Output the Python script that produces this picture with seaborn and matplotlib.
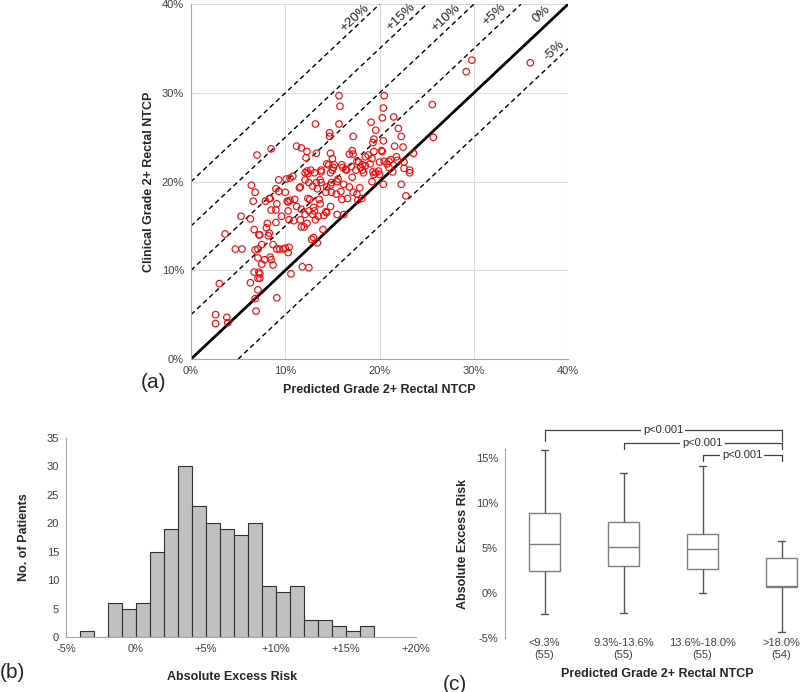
import numpy as np
import pandas as pd
import matplotlib
matplotlib.use("Agg")
import matplotlib.pyplot as plt
import seaborn as sns

sns.set_style("white")
plt.rcParams["font.family"] = ["Liberation Sans", "DejaVu Sans"]

# (a) predicted vs clinical NTCP, in %
pred = [36.0, 29.8, 29.2, 20.5, 15.7, 15.8, 20.4, 25.6, 20.3, 21.5,
        19.1, 13.2, 15.7, 22.0, 19.6, 14.7, 14.7, 17.2, 22.3, 25.7,
        19.4, 20.4, 19.3, 11.2, 11.7, 8.5, 21.6, 22.5, 7.0, 12.3,
        13.3, 17.1, 17.2, 16.8, 19.4, 20.2, 20.3, 18.8, 18.5, 23.6,
        14.8, 15.0, 12.2, 19.2, 21.8, 21.9, 17.6, 17.8, 14.4, 14.6,
        16.0, 16.1, 16.4, 16.5, 18.2, 18.5, 20.0, 20.5, 21.0, 21.2,
        20.8, 22.6, 21.0, 22.6, 23.2, 23.2, 13.8, 13.8, 15.0, 15.1,
        14.8, 12.3, 12.7, 12.4, 12.1, 13.1, 10.8, 17.5, 18.3, 19.3,
        19.4, 19.9, 19.6, 18.2, 17.1, 15.6, 9.3, 10.1, 12.1, 12.5,
        13.3, 13.7, 13.8, 14.8, 14.9, 19.2, 20.4, 22.3, 6.4, 6.8,
        6.6, 9.0, 9.3, 10.0, 11.5, 11.6, 13.4, 14.3, 14.4, 14.9,
        15.4, 15.9, 17.2, 17.6, 17.9, 16.6, 16.0, 18.1, 17.7, 7.9,
        8.3, 8.4, 9.1, 10.2, 10.5, 10.3, 12.4, 12.6, 13.6, 13.7,
        5.3, 6.3, 8.5, 9.0, 9.0, 10.3, 10.4, 10.9, 11.7, 11.6,
        11.7, 12.0, 12.1, 12.5, 12.9, 13.1, 13.2, 13.5, 14.1, 14.3,
        14.4, 15.5, 16.2, 14.0, 6.7, 7.2, 7.3, 8.0, 8.2, 8.3,
        3.6, 4.7, 5.4, 6.8, 7.1, 7.5, 8.7, 9.1, 9.4, 9.8,
        10.0, 10.3, 10.4, 12.8, 13.0, 13.4, 7.1, 7.5, 7.8, 8.4,
        8.5, 8.7, 6.7, 7.2, 7.3, 7.1, 7.3, 6.3, 3.0, 11.8,
        12.5, 10.6, 7.1, 9.1, 6.8, 6.9, 2.6, 2.6, 3.8, 3.9,
        22.8, 15.2, 12.9, 10.5, 16.2, 15.5, 11.0, 13.0, 14.8, 12.3,
        9.6, 18.0, 19.0, 17.0, 20.0, 8.1, 11.2, 16.8, 21.4]
clin = [33.4, 33.7, 32.4, 29.7, 29.7, 28.5, 28.3, 28.7, 27.2, 27.3,
        26.7, 26.5, 26.5, 26.0, 25.8, 25.5, 25.1, 25.1, 25.1, 25.0,
        24.8, 24.6, 24.4, 24.0, 23.8, 23.7, 24.0, 23.9, 23.0, 23.4,
        23.2, 23.5, 23.1, 23.1, 23.4, 23.5, 23.4, 23.0, 22.8, 23.2,
        23.2, 22.6, 22.7, 22.6, 22.8, 22.4, 22.3, 22.2, 22.0, 21.9,
        21.9, 21.6, 21.4, 21.3, 21.9, 21.8, 22.2, 22.3, 22.3, 22.5,
        22.0, 22.2, 21.6, 21.5, 21.3, 21.0, 21.3, 21.1, 21.3, 21.6,
        21.0, 21.2, 21.3, 20.9, 21.0, 21.0, 20.6, 21.3, 21.0, 21.1,
        20.8, 21.2, 21.0, 21.3, 20.5, 20.3, 20.2, 20.3, 20.2, 19.9,
        19.9, 20.2, 19.9, 19.6, 19.9, 20.0, 19.7, 19.7, 19.6, 18.8,
        17.8, 19.2, 18.9, 18.8, 19.3, 19.4, 19.2, 18.8, 19.4, 18.8,
        18.6, 18.9, 18.8, 18.6, 19.3, 18.1, 18.0, 18.1, 17.9, 17.8,
        18.1, 18.1, 17.5, 17.8, 17.9, 17.7, 18.1, 18.0, 18.0, 17.5,
        16.1, 15.8, 16.8, 16.8, 15.4, 16.7, 15.7, 15.6, 16.9, 15.7,
        14.9, 14.9, 16.3, 16.7, 16.3, 16.7, 15.7, 16.1, 16.2, 16.6,
        16.5, 16.3, 16.3, 14.6, 14.6, 14.0, 14.0, 14.8, 13.9, 14.2,
        14.1, 12.4, 12.4, 12.3, 12.4, 12.9, 12.9, 12.4, 12.4, 12.4,
        12.5, 12.0, 12.6, 13.5, 13.7, 13.1, 11.4, 10.7, 11.2, 11.5,
        11.2, 10.6, 9.8, 9.8, 9.6, 9.1, 9.1, 8.6, 8.5, 10.4,
        10.3, 9.6, 7.8, 6.9, 6.8, 5.4, 5.0, 4.0, 4.7, 4.1,
        18.4, 21.9, 19.5, 20.4, 19.7, 20.0, 18.0, 17.1, 17.2, 15.3,
        16.1, 21.6, 22.0, 21.7, 20.8, 15.3, 17.2, 19.4, 21.1]

ref_offsets = [-5, 5, 10, 15, 20]
ref_labels = ["-5%", "+5%", "+10%", "+15%", "+20%"]
ref_label_pos = [(38.5, 34.8), (32.2, 38.8), (27.0, 38.5), (22.3, 38.6), (17.4, 38.4)]

# (b) histogram of absolute excess risk, 1% bins
bin_edges = list(range(-4, 18))
bin_counts = [1, 0, 6, 5, 6, 15, 19, 30, 23, 20, 19, 18, 20, 9, 8, 9, 3, 3, 2, 1, 2]

# (c) box summaries: min, q1, median, q3, max (in %)
groups = ["<9.3%\n(55)", "9.3%-13.6%\n(55)", "13.6%-18.0%\n(55)", ">18.0%\n(54)"]
box_stats = [[-2.3, 2.5, 5.45, 8.9, 15.9],
             [-2.2, 3.0, 5.16, 7.93, 13.3],
             [0.0, 2.67, 4.85, 6.55, 14.1],
             [-4.3, 0.72, 0.8, 3.9, 5.8]]
brackets = [(0, 3, 18.1, 16.9), (1, 3, 16.6, 16.0), (2, 3, 15.3, 14.6)]

fig = plt.figure(figsize=(8, 6.92), dpi=100)
tick_col = "#404040"
spine_col = "#a6a6a6"
lab_kw = dict(fontsize=9, fontweight="bold")

# ---------- (a)
ax = fig.add_axes([0.2388, 0.4812, 0.4712, 0.5126])
ax.set_xlim(0, 40)
ax.set_ylim(0, 40)
ax.grid(True, color="#dcdcdc", linewidth=0.8)
ax.set_axisbelow(True)
for k in ref_offsets:
    ax.axline((0, k), slope=1, color="black", linewidth=1.0, linestyle=(0, (3.5, 2.5)))
ax.axline((0, 0), slope=1, color="black", linewidth=2.0)
sns.scatterplot(x=pred, y=clin, ax=ax, marker="o", s=22,
                facecolors="none", edgecolor="red", linewidth=0.8, zorder=3)
for lab, (lx, ly) in zip(ref_labels, ref_label_pos):
    ax.text(lx, ly, lab, rotation=43, ha="center", va="center", fontsize=9.5)
ax.text(37.2, 38.9, "0%", rotation=43, ha="center", va="center", fontsize=9.5)
ax.set_xticks(range(0, 41, 10))
ax.set_yticks(range(0, 41, 10))
ax.set_xticklabels([f"{v}%" for v in range(0, 41, 10)])
ax.set_yticklabels([f"{v}%" for v in range(0, 41, 10)])
ax.tick_params(labelsize=8, colors=tick_col, length=3, color=spine_col, pad=2)
for s in ["top", "right"]:
    ax.spines[s].set_visible(False)
for s in ["left", "bottom"]:
    ax.spines[s].set_color(spine_col)
ax.set_xlabel("Predicted Grade 2+ Rectal NTCP", labelpad=6, **lab_kw)
ax.set_ylabel("Clinical Grade 2+ Rectal NTCP", labelpad=5, **lab_kw)
fig.text(153 / 800, 1 - 382 / 692, "(a)", fontsize=15, ha="center", va="center")

# ---------- (b)
axb = fig.add_axes([0.0825, 0.0795, 0.4375, 0.2875])
hist_df = pd.DataFrame({"risk": np.array(bin_edges[:-1]) + 0.5, "n": bin_counts})
sns.histplot(data=hist_df, x="risk", weights="n", bins=bin_edges, ax=axb,
             color="#c0c0c0", edgecolor="#303030", linewidth=0.8, alpha=1)
axb.set_xlim(-5, 20)
axb.set_ylim(0, 35)
axb.set_xticks(range(-5, 21, 5))
axb.set_xticklabels(["-5%", "0%", "+5%", "+10%", "+15%", "+20%"])
axb.set_xticks(range(-5, 21), minor=True)
axb.set_yticks(range(0, 36, 5))
axb.tick_params(labelsize=8, colors=tick_col, length=3, color=spine_col, pad=2)
axb.tick_params(which="minor", length=2, color=spine_col)
for s in ["top", "right"]:
    axb.spines[s].set_visible(False)
for s in ["left", "bottom"]:
    axb.spines[s].set_color(spine_col)
axb.set_xlabel("Absolute Excess Risk", **lab_kw)
axb.set_ylabel("No. of Patients", labelpad=12, **lab_kw)
axb.xaxis.set_label_coords(0.475, -0.17)
fig.text(12 / 800, 1 - 672 / 692, "(b)", fontsize=15, ha="center", va="center")

# ---------- (c)
axc = fig.add_axes([0.63125, 0.0776, 0.395, 0.274])
box_df = pd.DataFrame({"group": np.repeat(groups, 5),
                       "risk": np.concatenate(box_stats)})
sns.boxplot(data=box_df, x="group", y="risk", ax=axc, whis=(0, 100), width=0.4,
            color="white", linecolor="#7f7f7f", linewidth=1.0, capwidths=0.08,
            whiskerprops={"color": "#555555"}, capprops={"color": "#555555"})
axc.set_xlim(-0.5, 3.5)
axc.set_ylim(-5, 16)
axc.set_yticks(range(-5, 16, 5))
axc.set_yticklabels([f"{v}%" for v in range(-5, 16, 5)])
axc.tick_params(labelsize=8, colors=tick_col, length=3, color=spine_col, pad=2)
axc.tick_params(axis="x", length=0, pad=0)
for s in ["top", "right", "bottom"]:
    axc.spines[s].set_visible(False)
axc.spines["left"].set_color(spine_col)
axc.set_ylabel("Absolute Excess Risk", labelpad=5, **lab_kw)
axc.set_xlabel("")
fig.text(657 / 800, 1 - 674 / 692, "Predicted Grade 2+ Rectal NTCP",
         ha="center", va="center", **lab_kw)
for g0, g1, top, foot in brackets:
    axc.plot([g0, g0, g1, g1], [foot, top, top, foot], color="#404040",
             linewidth=0.9, clip_on=False)
    axc.text((g0 + g1) / 2, top, "p<0.001", ha="center", va="center", fontsize=8,
             color="#303030", clip_on=False,
             bbox=dict(facecolor="white", edgecolor="none", pad=1.5))
fig.text(455 / 800, 1 - 684 / 692, "(c)", fontsize=15, ha="center", va="center")

fig.savefig("out.png", dpi=100)
